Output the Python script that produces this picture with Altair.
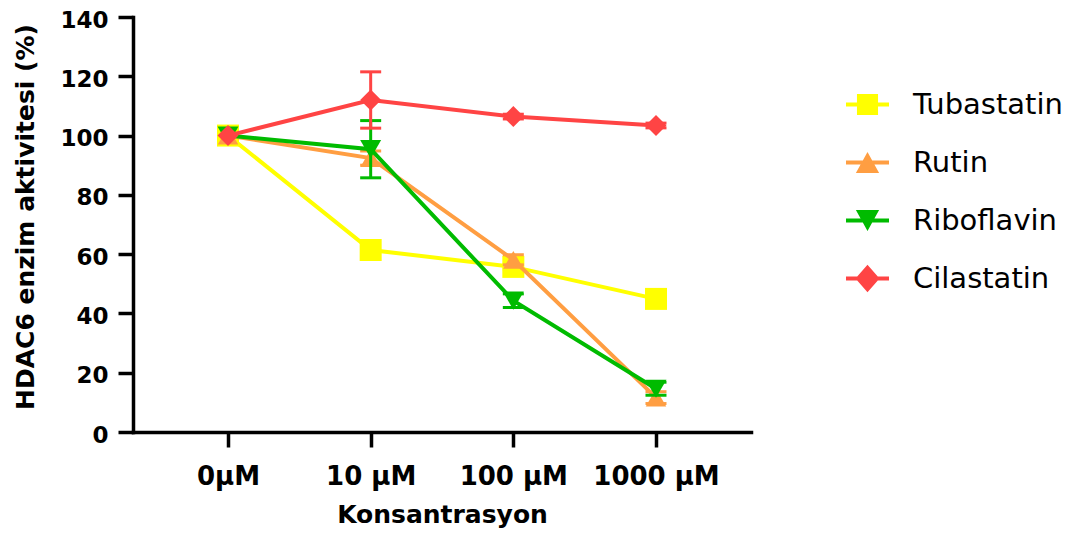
import altair as alt
import pandas as pd

concs = ["0µM", "10 µM", "100 µM", "1000 µM"]
series = ["Tubastatin", "Rutin", "Riboflavin", "Cilastatin"]
colors = ["#FFFF00", "#FF9E42", "#00BB00", "#FF4444"]

tubastatin_mean = [100, 61.4, 55.7, 44.9]
tubastatin_sd = [0, 0, 0.8, 0]
rutin_mean = [100, 92.4, 58.1, 11.6]
rutin_sd = [0, 2.4, 1.7, 2.0]
riboflavin_mean = [100, 95.4, 44.3, 14.6]
riboflavin_sd = [0, 9.65, 2.3, 2.2]
cilastatin_mean = [100, 112.0, 106.4, 103.4]
cilastatin_sd = [0, 9.5, 0.8, 0.8]

means = [tubastatin_mean, rutin_mean, riboflavin_mean, cilastatin_mean]
sds = [tubastatin_sd, rutin_sd, riboflavin_sd, cilastatin_sd]

rows = []
for si, s in enumerate(series):
    for ci, c in enumerate(concs):
        m = means[si][ci]
        sd = sds[si][ci]
        rows.append({"series": s, "order": si, "conc": c, "mean": m,
                     "lo": m - sd, "hi": m + sd, "sd": sd})
df = pd.DataFrame(rows)

# legend symbol paths (line through marker)
bar = "M-1,-0.09H1V0.09H-1Z"
legend_paths = [
    bar + " M-0.49,-0.49H0.49V0.49H-0.49Z",
    bar + " M0,-0.49L0.54,0.49H-0.54Z",
    bar + " M0,0.49L-0.54,-0.49H0.54Z",
    bar + " M0,-0.64L0.56,0L0,0.64L-0.56,0Z",
]
plot_shapes = ["square", "triangle-up", "triangle-down", "diamond"]
plot_sizes = [484, 420, 441, 441]

FONT = "DejaVu Sans"

x_enc = alt.X("conc:N", scale=alt.Scale(type="point", domain=concs, padding=0.666),
              axis=alt.Axis(title="Konsantrasyon", labelAngle=0, labelFontSize=26,
                            labelFontWeight="bold", labelFont=FONT, labelColor="black",
                            labelPadding=16.5, tickSize=15, tickWidth=3.5, tickColor="black",
                            domainColor="black", domainWidth=3.5, domainCap="square",
                            titleFont=FONT, titleFontSize=25, titleFontWeight="bold",
                            titleColor="black", titleY=70, titleBaseline="top"))
y_scale = alt.Scale(domain=[0, 140], nice=False)
y_axis = alt.Axis(title="HDAC6 enzim aktivitesi (%)", values=list(range(0, 141, 20)),
                  labelFontSize=23, labelFontWeight="bold", labelFont=FONT, labelColor="black",
                  labelPadding=10, labelOffset=3, tickSize=15, tickWidth=3.5, tickColor="black",
                  domainColor="black", domainWidth=3.5, domainCap="square", grid=False,
                  titleFont=FONT, titleFontSize=25, titleFontWeight="bold", titleColor="black",
                  titleX=-95, titleY=199.5)

base = alt.Chart(df)

layers = []
for si, s in enumerate(series):
    col = alt.value(colors[si])
    sub = base.transform_filter(alt.datum.series == s)
    err = sub.transform_filter(alt.datum.sd > 0)
    layers.append(err.mark_rule(strokeWidth=3).encode(
        x=x_enc, y=alt.Y("lo:Q", scale=y_scale, axis=y_axis), y2="hi:Q", color=col))
    layers.append(err.mark_tick(size=21, thickness=3, opacity=1).encode(
        x=x_enc, y=alt.Y("lo:Q", scale=y_scale, axis=y_axis), color=col))
    layers.append(err.mark_tick(size=21, thickness=3, opacity=1).encode(
        x=x_enc, y=alt.Y("hi:Q", scale=y_scale, axis=y_axis), color=col))
    layers.append(sub.mark_line(strokeWidth=4).encode(
        x=x_enc, y=alt.Y("mean:Q", scale=y_scale, axis=y_axis), color=col))
    layers.append(sub.mark_point(filled=True, opacity=1, shape=plot_shapes[si],
                                 size=plot_sizes[si], strokeWidth=0).encode(
        x=x_enc, y=alt.Y("mean:Q", scale=y_scale, axis=y_axis), color=col))

legend = alt.Legend(title=None, orient="none", legendX=713, legendY=66, padding=0,
                    symbolSize=1849, symbolOpacity=1, symbolStrokeWidth=0,
                    labelFont=FONT, labelFontSize=29, labelColor="black",
                    labelFontWeight="normal", labelOffset=24, rowPadding=21,
                    labelLimit=400)
legend_layer = base.mark_point(filled=True, opacity=0).encode(
    x=x_enc, y=alt.Y("mean:Q", scale=y_scale, axis=y_axis),
    color=alt.Color("series:N", scale=alt.Scale(domain=series, range=colors),
                    legend=legend, sort=series),
    shape=alt.Shape("series:N", scale=alt.Scale(domain=series, range=legend_paths),
                    legend=legend, sort=series),
)

chart = alt.layer(*layers, legend_layer).properties(
    width=618, height=415,
    padding={"left": 125, "top": 9, "right": 320, "bottom": 96},
    autosize=alt.AutoSizeParams(type="none"),
    background="white",
).configure_view(stroke=None)

chart.save("out.html", embed_options={"renderer": "svg", "actions": False})
